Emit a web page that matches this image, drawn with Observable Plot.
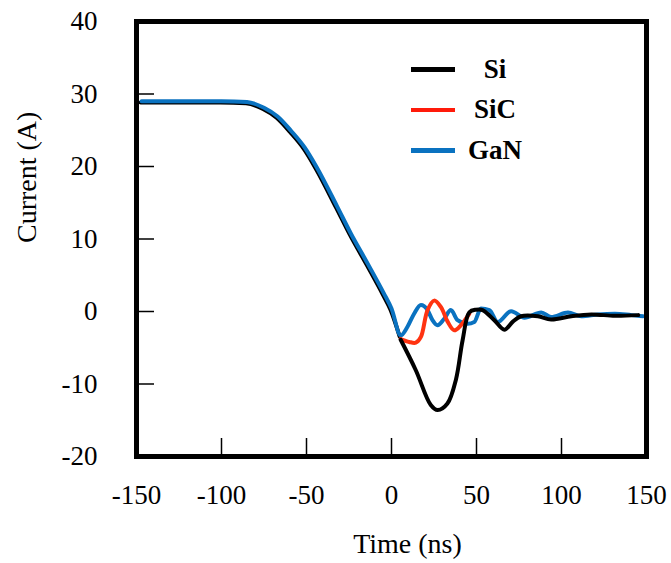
<!DOCTYPE html>
<html>
<head>
<meta charset="utf-8">
<script src="https://cdn.jsdelivr.net/npm/d3@7"></script>
<script src="https://cdn.jsdelivr.net/npm/@observablehq/plot@0.6"></script>
<style>
  body { margin: 0; background: #fff; }
  #wrap { position: relative; width: 671px; height: 563px; font-family: 'Liberation Serif', serif; }
  #wrap svg, #wrap svg text { font-family: 'Liberation Serif', serif !important; }
  g[aria-label="axis-title"] text { letter-spacing: 1.3px; }
  #legend { position: absolute; left: 411px; top: 49px; }
  #legend .row { display: flex; align-items: center; height: 40.5px; }
  #legend .sw { width: 44px; height: 4.5px; }
  #legend .lb { width: 80px; text-align: center; font-weight: bold; font-size: 27px; color: #000; }
</style>
</head>
<body>
<div id="wrap"></div>
<script>
// Shared turn-off ramp (all three devices overlap here)
const fallTime    = [-147, -120, -100, -85, -75, -67, -59, -51, -44, -32, -24, -14, -4.5, 0, 5.4];
const fallCurrent = [29, 29, 29, 28.9, 28.1, 26.9, 24.9, 22.6, 19.9, 14.5, 10.8, 6.6, 2.5, 0.4, -3.3];

// Si tail after the ramp
const siTime    = [5.4, 14.3, 23.1, 27.1, 32.9, 37.9, 41.8, 45.8, 49.7, 53.6, 60.5, 66.4, 71.4, 76.2, 86.1, 93.9, 105.8, 117.6, 131.4, 145.1];
const siCurrent = [-3.9, -8.1, -12.9, -13.6, -12.7, -9.4, -4.0, -0.1, 0.25, 0.2, -1.2, -2.5, -1.4, -0.65, -0.65, -1.1, -0.65, -0.4, -0.6, -0.5];

// SiC tail
const sicTime    = [5.4, 10.4, 14.3, 17.3, 21.2, 25.1, 29.1, 33, 36.9, 40.8, 45.8];
const sicCurrent = [-3.8, -4.2, -4.3, -3.5, 0.2, 1.5, 0.6, -1.4, -2.6, -1.9, -0.3];

// GaN tail
const ganTime    = [9.4, 13.3, 17.3, 21.2, 24.1, 27.1, 31, 34.9, 38.9, 44.8, 48.7, 52.6, 57.6, 62.5, 70.4, 78.2, 88.1, 93.9, 103.8, 111.6, 121.5, 131.4, 141.2, 148];
const ganCurrent = [-2.1, -0.3, 0.9, 0.2, -1.2, -1.9, -1.0, 0.2, -1.2, -1.7, -1.45, 0.4, 0.2, -1.45, 0.05, -0.85, -0.15, -0.75, -0.15, -0.65, -0.4, -0.3, -0.5, -0.65];

const seriesNames  = ["Si", "SiC", "GaN"];
const seriesColors = ["#000000", "#ff3311", "#0a72c0"];
const legendColors = ["#000000", "#ff1a0a", "#0a72c0"];

const xTicks = [-150, -100, -50, 0, 50, 100, 150];
const yTicks = [-20, -10, 0, 10, 20, 30, 40];
const xLabel = "Time (ns)";
const yLabel = "Current (A)";

const rows = (t, c) => t.map((x, i) => ({time: x, current: c[i]}));
const fallRows = rows(fallTime, fallCurrent);
const siRows = rows(siTime, siCurrent);
const sicRows = rows(sicTime, sicCurrent);
const ganRows = fallRows.concat(rows(ganTime, ganCurrent));

const W = 671, H = 563, mL = 136, mR = 25, mT = 21, mB = 107;
const innerW = W - mL - mR, innerH = H - mT - mB;
const tickLen = 18;
const font = "'Liberation Serif', serif";

const chart = Plot.plot({
  width: W, height: H,
  marginLeft: mL, marginRight: mR, marginTop: mT, marginBottom: mB,
  style: {fontFamily: font, fontSize: "27px", color: "#000", background: "#fff"},
  x: {domain: [-150, 150]},
  y: {domain: [-20, 40]},
  marks: [
    Plot.line(fallRows, {x: "time", y: "current", stroke: seriesColors[0], strokeWidth: 4, dx: -1, dy: 1.2, curve: "monotone-x"}),
    Plot.line(ganRows, {x: "time", y: "current", stroke: seriesColors[2], strokeWidth: 4, curve: "monotone-x"}),
    Plot.line(sicRows, {x: "time", y: "current", stroke: seriesColors[1], strokeWidth: 4, curve: "catmull-rom"}),
    Plot.line(siRows, {x: "time", y: "current", stroke: seriesColors[0], strokeWidth: 4, curve: "catmull-rom"}),
    Plot.ruleX(xTicks, {x: d => d, insetTop: innerH - tickLen, stroke: "#000", strokeWidth: 1.5}),
    Plot.ruleY(yTicks, {y: d => d, insetRight: innerW - tickLen, stroke: "#000", strokeWidth: 1.5}),
    Plot.frame({stroke: "#000", strokeWidth: 5}),
    Plot.axisX(xTicks, {tickSize: 0, tickPadding: 28, fontSize: 27, fontFamily: font, tickFormat: d => String(d), label: null}),
    Plot.axisY(yTicks, {tickSize: 0, tickPadding: 39, fontSize: 27, fontFamily: font, tickFormat: d => String(d), label: null}),
    Plot.text([xLabel], {text: d => d, frameAnchor: "bottom", dx: 16, dy: 88, lineAnchor: "middle", fontSize: 28, fontFamily: font, ariaLabel: "axis-title"}),
    Plot.text([yLabel], {text: d => d, frameAnchor: "left", rotate: -90, dx: -109, dy: 4, lineAnchor: "middle", fontSize: 28, fontFamily: font, ariaLabel: "axis-title"})
  ]
});

const wrap = document.getElementById("wrap");
wrap.appendChild(chart);

const legend = document.createElement("div");
legend.id = "legend";
seriesNames.forEach((name, i) => {
  const row = document.createElement("div");
  row.className = "row";
  const sw = document.createElement("span");
  sw.className = "sw";
  sw.style.background = legendColors[i];
  const lb = document.createElement("span");
  lb.className = "lb";
  lb.textContent = name;
  row.appendChild(sw);
  row.appendChild(lb);
  legend.appendChild(row);
});
wrap.appendChild(legend);
</script>
</body>
</html>
